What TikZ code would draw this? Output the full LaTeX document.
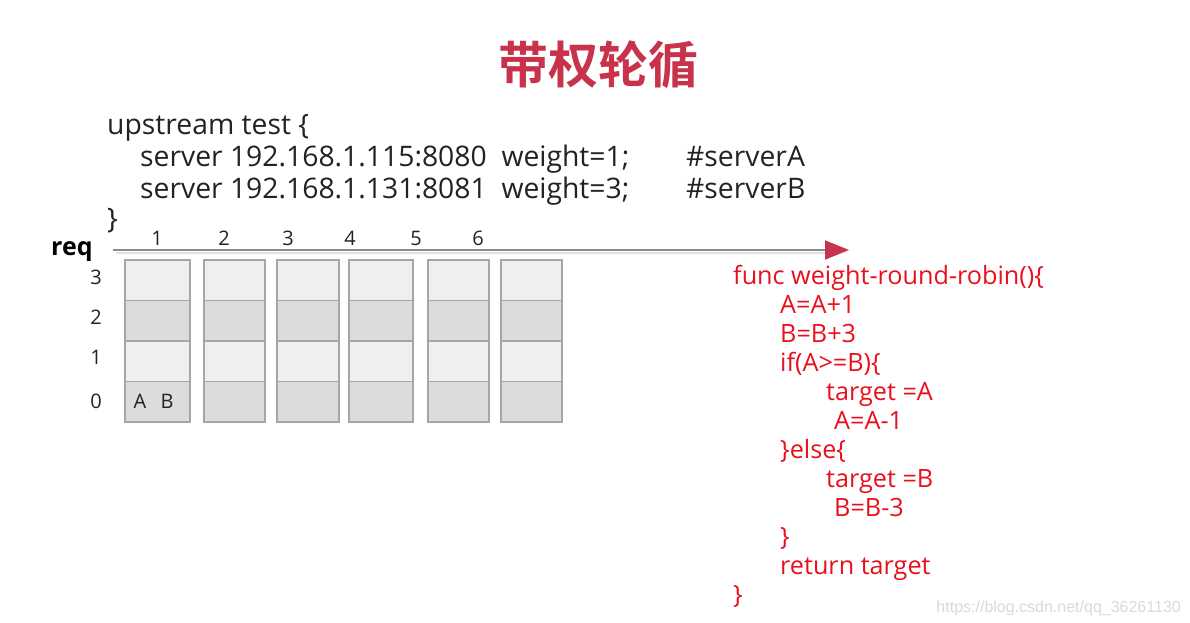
\documentclass[tikz,border=0pt]{standalone}
\usepackage{fontspec}
\setmainfont{Open Sans}
\newfontfamily\cjkbold[BoldFont={* Bold}]{Noto Sans CJK SC}
\newfontfamily\wmfont{Liberation Sans}
\usetikzlibrary{arrows.meta}
\definecolor{titlered}{HTML}{C8324A}
\definecolor{codered}{HTML}{E8101C}
\definecolor{cellA}{HTML}{EFEEF0}
\definecolor{cellB}{HTML}{DCDCDC}
\definecolor{cellline}{HTML}{A6A6A6}
\definecolor{txt}{HTML}{222222}
\tikzset{
  conf/.style={anchor=base west, inner sep=0pt, text=txt, font=\fontsize{28.3}{28}\selectfont},
  code/.style={anchor=base west, inner sep=0pt, text=codered, font=\fontsize{25.2}{25}\selectfont},
  small/.style={anchor=base, inner sep=0pt, text=txt, font=\fontsize{20}{20}\selectfont},
  cell/.style={draw=cellline, line width=1.6pt, inner sep=0pt, anchor=north west},
  axis/.style={draw=black!45, line width=1.6pt},
}
\begin{document}
\begin{tikzpicture}[x=1pt,y=-1pt]
\useasboundingbox (0,0) rectangle (1190,623);
% title
\node[inner sep=0pt, text=titlered, font=\cjkbold\bfseries\fontsize{50}{50}\selectfont] (title) at (598,65) {带权轮循};
% config
\node[conf] (c1) at (107,134) {upstream test \{};
\node[conf] (c2) at (140,166) {server 192.168.1.115:8080\ \ weight=1;};
\node[conf] (c2b) at (686,166) {\#serverA};
\node[conf] (c3) at (140,198) {server 192.168.1.131:8081\ \ weight=3;};
\node[conf] (c3b) at (686,198) {\#serverB};
\node[conf] (c4) at (107,228) {\}};
% axis
\node[anchor=base west, inner sep=0pt, font=\bfseries\fontsize{25}{25}\selectfont] (req) at (51,255) {req};
\coordinate (ax0) at (113,250);
\coordinate (ax1) at (849,250);
\draw[draw=black!12, line width=2pt] (116,252.5) -- (826,252.5);
\draw[axis, -{Triangle[length=24pt,width=19pt,color=titlered,fill=titlered]}] (ax0) -- (ax1);
% columns
\foreach \i/\l/\r/\n in {1/124/189/157, 2/203/264/224, 3/276/338/288, 4/348/412/350, 5/427/488/416, 6/500/561/478}{
  \node[small] (n\i) at (\n,245) {\i};
  \foreach \k/\c in {3/cellA, 2/cellB, 1/cellA, 0/cellB}{
    \pgfmathsetmacro{\top}{259+(3-\k)*40.5}
    \pgfmathsetmacro{\w}{\r-\l}
    \node[cell, fill=\c, minimum width=\w pt, minimum height=40.5pt] (b\i-\k) at (\l,\top) {};
  }
}
% row labels
\foreach \k/\y in {3/284, 2/324, 1/364, 0/408}{
  \node[small] (r\k) at (96,\y) {\k};
}
\node[small] (la) at (140,408) {A};
\node[small] (lb) at (167,408) {B};
% code
\node[code] (k1) at (733,284) {func weight-round-robin()\{};
\node[code] (k2) at (780,313) {A=A+1};
\node[code] (k3) at (780,342) {B=B+3};
\node[code] (k4) at (780,371) {if(A>=B)\{};
\node[code] (k5) at (826,400) {target =A};
\node[code] (k6) at (834,429) {A=A-1};
\node[code] (k7) at (780,458) {\}else\{};
\node[code] (k8) at (826,487) {target =B};
\node[code] (k9) at (834,516) {B=B-3};
\node[code] (k10) at (780,545) {\}};
\node[code] (k11) at (780,574) {return target};
\node[code] (k12) at (733,603) {\}};
% watermark
\node[anchor=base east, inner sep=0pt, text=black!15, font=\wmfont\fontsize{16}{16}\selectfont] (wm) at (1181,612) {https://blog.csdn.net/qq\_36261130};
\end{tikzpicture}
\end{document}
